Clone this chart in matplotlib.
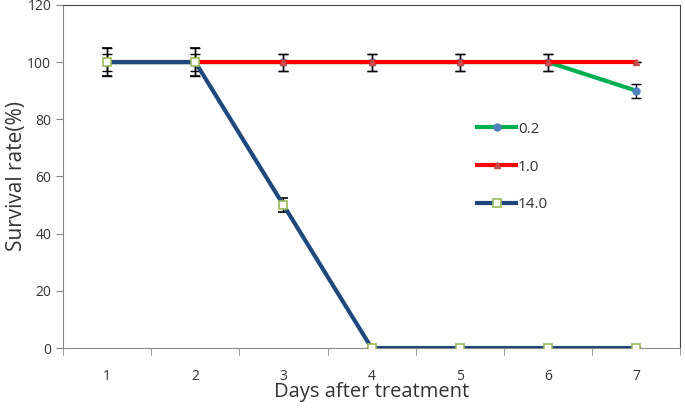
import numpy as np
import matplotlib.pyplot as plt
from matplotlib.lines import Line2D

plt.rcParams['font.family'] = ['Open Sans', 'DejaVu Sans']

days = [1, 2, 3, 4, 5, 6, 7]
s02 = [100, 100, 100, 100, 100, 100, 90]
s02_err = [5, 5, 3, 3, 3, 3, 2.5]
s10 = [100, 100, 100, 100, 100, 100, 100]
s10_err = [3, 3, 3, 3, 3, 3, 0]
s14 = [100, 100, 50, 0, 0, 0, 0]
s14_err = [5, 5, 2.5, 0, 0, 0, 0]
labels = ['0.2', '1.0', '14.0']

fig = plt.figure(figsize=(6.85, 4.08), dpi=100)
ax = fig.add_axes([0.092, 0.147, 0.901, 0.841])

styles = [
    dict(color='#00b050', marker='o', ms=5, mfc='#4f81bd', mec='#4f81bd'),
    dict(color='#ff0000', marker='^', ms=5, mfc='#c0504d', mec='#c0504d'),
    dict(color='#1f497d', marker='s', ms=6, mfc='white', mec='#9bbb59', mew=1.2),
]
eb = dict(ecolor='black', elinewidth=1, capsize=3.5, capthick=1)
for i, (y, e) in enumerate([(s02, s02_err), (s10, s10_err), (s14, s14_err)]):
    ax.errorbar(days, y, yerr=e, lw=3, zorder=2 + i, **styles[i], **eb)

ax.set_xlim(0.5, 7.5)
ax.set_ylim(0, 120)
ax.set_yticks(np.arange(0, 121, 20))
ax.set_xticks(days)
ax.set_xticks(np.arange(0.5, 7.6, 1), minor=True)
ax.tick_params(axis='x', which='major', length=0, pad=15, labelsize=10, colors='#333333')
ax.tick_params(axis='x', which='minor', length=5, direction='out', color='#888888')
ax.tick_params(axis='y', length=5, direction='out', labelsize=10, colors='#333333', color='#888888')
for s in ax.spines.values():
    s.set_color('#888888')
ax.spines['right'].set_color('#444444')
ax.spines['top'].set_color('#444444')

ax.set_xlabel('Days after treatment', fontsize=14.5, color='#333333', labelpad=-1)
ax.set_ylabel('Survival rate(%)', fontsize=15, color='#333333', labelpad=0)

handles = [Line2D([], [], lw=3, **st) for st in styles]
leg = ax.legend(handles, labels, loc='upper left', bbox_to_anchor=(0.648, 0.70), frameon=False,
                fontsize=11, handlelength=2.6, handletextpad=0.1, labelspacing=1.5)
for t in leg.get_texts():
    t.set_color('#333333')

fig.savefig('out.png', dpi=100)
